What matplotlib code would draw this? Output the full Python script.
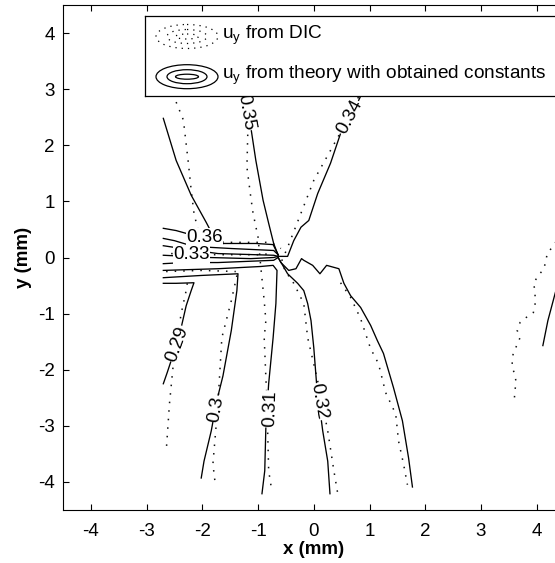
import matplotlib
matplotlib.use('Agg')
import matplotlib.pyplot as plt
from matplotlib.patches import Ellipse

plt.rcParams['font.family'] = ['Liberation Sans', 'DejaVu Sans']
plt.rcParams['mathtext.default'] = 'regular'
plt.rcParams['axes.unicode_minus'] = False

# ---------------- data (mm) ----------------
tick_vals = [-4, -3, -2, -1, 0, 1, 2, 3, 4]

# theory contours (solid)
th_a_x = [-2.70, -2.47, -2.20, -1.93, -1.79, -1.63, -1.04, -0.73, -0.64]
th_a_y = [2.48, 1.73, 1.11, 0.625, 0.36, 0.25, 0.25, 0.23, 0.05]
th_036_x = [-2.70, -2.47, -2.29, -2.02, -1.79, -1.63]
th_036_y = [0.52, 0.48, 0.43, 0.34, 0.30, 0.25]
th_b035_x = [-2.70, -2.50, -2.20, -1.84, -1.48, -0.72, -0.64]
th_b035_y = [0.34, 0.30, 0.21, 0.18, 0.16, 0.125, 0.05]
th_b034_x = [-2.70, -2.50, -1.72, -0.72, -0.64]
th_b034_y = [0.21, 0.18, 0.07, 0.04, 0.02]
th_033_x = [-2.70, -1.88, -1.13, -0.72, -0.64]
th_033_y = [0.04, 0.00, -0.02, 0.00, 0.02]
th_b032_x = [-2.70, -2.33, -1.72, -0.72, -0.64]
th_b032_y = [-0.11, -0.09, -0.09, -0.05, 0.00]
th_031_x = [-2.70, -1.72, -0.95, -0.73, -0.66, -0.68, -0.73, -0.81, -0.86, -0.88, -0.93]
th_031_y = [-0.23, -0.20, -0.16, -0.14, -0.23, -0.82, -1.43, -2.25, -3.02, -3.80, -4.21]
th_030_x = [-2.70, -2.02, -1.36, -1.38, -1.48, -1.63, -1.74, -1.84, -1.97, -2.02]
th_030_y = [-0.36, -0.32, -0.29, -0.59, -1.30, -2.11, -2.55, -3.09, -3.63, -3.93]
th_029_x = [-2.70, -2.47, -2.15, -2.20, -2.29, -2.38, -2.56, -2.63, -2.70]
th_029_y = [-0.46, -0.46, -0.45, -0.59, -0.86, -1.25, -1.84, -2.05, -2.25]
th_032_x = [-0.64, -0.47, -0.29, -0.18, -0.11, -0.05, 0.00, 0.05, 0.16, 0.25, 0.29]
th_032_y = [0.00, -0.29, -0.46, -0.59, -0.82, -1.125, -1.61, -2.25, -3.09, -3.63, -4.21]
th_r_x = [-0.64, -0.59, -0.45, -0.32, -0.22, -0.18, -0.02, 0.11, 0.23, 0.45, 0.54, 0.66,
          0.84, 1.02, 1.14, 1.25, 1.43, 1.59, 1.70, 1.77]
th_r_y = [0.00, -0.09, -0.23, -0.20, -0.02, -0.05, -0.14, -0.29, -0.14, -0.20, -0.46, -0.68,
          -0.89, -1.21, -1.48, -1.71, -2.32, -2.91, -3.57, -4.09]
th_034_x = [0.84, 0.68, 0.48, 0.30, 0.07, -0.09, -0.23, -0.36, -0.47, -0.64]
th_034_y = [2.875, 2.54, 2.21, 1.68, 1.14, 0.66, 0.54, 0.30, 0.02, 0.02]
th_035_x = [-1.16, -1.13, -1.04, -0.91, -0.81, -0.72, -0.64]
th_035_y = [2.875, 2.32, 1.73, 1.02, 0.61, 0.25, 0.04]
th_far_x = [4.11, 4.20, 4.33, 4.42]
th_far_y = [-1.57, -1.125, -0.64, -0.32]

# DIC contours (dotted)
dic_1_x = [-2.47, -2.34, -2.25, -2.20, -2.15, -2.09, -2.02, -1.57, -0.77, -0.59]
dic_1_y = [2.77, 2.45, 1.68, 1.20, 0.79, 0.54, 0.30, 0.27, 0.27, 0.16]
dic_2_x = [-1.16, -1.18, -1.20, -1.13, -1.09, -1.00, -0.95, -0.89, -0.86, -0.89, -0.84, -0.81, -0.75]
dic_2_y = [2.80, 2.39, 1.61, 1.07, 0.79, 0.36, -0.18, -0.77, -1.125, -1.43, -2.61, -3.80, -4.18]
dic_3_x = [0.80, 0.72, 0.43, 0.00, -0.23, -0.47, -0.57, -0.52, -0.36, -0.18, -0.11, 0.07, 0.25, 0.36, 0.43]
dic_3_y = [2.86, 2.68, 2.14, 1.375, 0.79, 0.18, -0.05, -0.23, -0.46, -0.82, -1.43, -2.20, -3.09, -3.80, -4.21]
dic_4_x = [0.48, 0.66, 0.84, 0.97, 1.02, 1.16, 1.29, 1.47, 1.52, 1.61, 1.68]
dic_4_y = [-0.45, -0.71, -1.09, -1.48, -1.625, -1.89, -2.41, -2.79, -3.27, -3.68, -4.05]
dic_5_x = [-2.27, -2.29, -2.38, -2.52, -2.59, -2.65]
dic_5_y = [-0.46, -0.59, -1.00, -1.89, -2.61, -3.48]
dic_6_x = [-1.38, -1.48, -1.65, -1.72, -1.81, -1.77]
dic_6_y = [-0.32, -0.77, -1.43, -2.61, -3.68, -4.02]
dic_b1_x = [-2.56, -1.80, -1.00, -0.73]
dic_b1_y = [0.07, 0.05, 0.05, 0.07]
dic_b2_x = [-2.65, -2.00, -1.40]
dic_b2_y = [-0.25, -0.23, -0.25]
dic_far_x = [4.42, 4.29, 4.19, 4.13, 4.03, 3.94, 3.97, 3.97, 3.94, 3.81, 3.70, 3.65, 3.70,
             3.65, 3.58, 3.56, 3.56, 3.61, 3.63, 3.61, 3.60]
dic_far_y = [0.39, 0.20, 0.07, -0.20, -0.32, -0.46, -0.59, -0.86, -0.98, -1.07, -1.16, -1.30, -1.43,
             -1.55, -1.70, -1.82, -1.96, -2.09, -2.23, -2.36, -2.50]

# contour labels
lab_text = ['0.36', '0.33', '0.35', '0.34', '0.29', '0.3', '0.31', '0.32']
lab_x = [-1.96, -2.19, -1.22, 0.64, -2.45, -1.75, -0.78, 0.09]
lab_y = [0.36, 0.045, 2.59, 2.50, -1.54, -2.70, -2.70, -2.57]
lab_rot = [0, 0, -80, 62, 70, 80, 88, -80]

legend_labels = ['u$_y$ from DIC', 'u$_y$ from theory with obtained constants']

# ---------------- figure ----------------
W, H = 555, 563
FS = 13.5
fig = plt.figure(figsize=(W / 100, H / 100), dpi=100)
ax = fig.add_axes([63 / W, (H - 510) / H, (564.6 - 63) / W, 505 / H])
ax.set_xlim(-4.5, 4.5)
ax.set_ylim(-4.5, 4.5)

solid = [(th_a_x, th_a_y), (th_036_x, th_036_y), (th_b035_x, th_b035_y), (th_b034_x, th_b034_y),
         (th_033_x, th_033_y), (th_b032_x, th_b032_y), (th_031_x, th_031_y), (th_030_x, th_030_y),
         (th_029_x, th_029_y), (th_032_x, th_032_y), (th_r_x, th_r_y), (th_034_x, th_034_y),
         (th_035_x, th_035_y), (th_far_x, th_far_y)]
dotted = [(dic_1_x, dic_1_y), (dic_2_x, dic_2_y), (dic_3_x, dic_3_y), (dic_4_x, dic_4_y),
          (dic_5_x, dic_5_y), (dic_6_x, dic_6_y), (dic_b1_x, dic_b1_y), (dic_b2_x, dic_b2_y),
          (dic_far_x, dic_far_y)]

for xs, ys in dotted:
    ax.plot(xs, ys, color='#111111', lw=1.1, linestyle=(0, (1.0, 4.6)), zorder=2,
            solid_capstyle='butt', dash_capstyle='butt')
for xs, ys in solid:
    ax.plot(xs, ys, color='black', lw=0.95, zorder=2)

for t, x, y, r in zip(lab_text, lab_x, lab_y, lab_rot):
    ax.text(x, y, t, rotation=r, ha='center', va='center', fontsize=FS, zorder=3,
            rotation_mode='anchor',
            bbox=dict(facecolor='white', edgecolor='none', pad=0.3))

ax.set_xticks(tick_vals)
ax.set_yticks(tick_vals)
ax.tick_params(direction='in', length=4, width=0.8, top=True, right=True,
               labelsize=FS)
ax.tick_params(axis='x', pad=9)
ax.tick_params(axis='y', pad=6)
for s in ax.spines.values():
    s.set_linewidth(0.8)
ax.set_xlabel('x (mm)', fontsize=FS, fontweight='bold', labelpad=1)
ax.set_ylabel('y (mm)', fontsize=FS, fontweight='bold', labelpad=4)

# ---------------- legend box ----------------
lx0, ly0, lx1, ly1 = 145, 16, 575, 96
lax = fig.add_axes([lx0 / W, (H - ly1) / H, (lx1 - lx0) / W, (ly1 - ly0) / H], zorder=5)
lax.set_xlim(0, lx1 - lx0)
lax.set_ylim(ly1 - ly0, 0)
lax.set_xticks([])
lax.set_yticks([])
for s in lax.spines.values():
    s.set_linewidth(0.9)
ell_w = [62, 40, 23]
ell_h = [24, 14, 5]
for cy, ls in [(20.5, (0, (1.0, 4))), (60.7, '-')]:
    for w_, h_ in zip(ell_w, ell_h):
        lax.add_patch(Ellipse((42, cy), w_, h_, fill=False, edgecolor='black',
                              lw=0.9, linestyle=ls))
lax.text(77, 19, legend_labels[0], fontsize=13.7, va='center', ha='left')
lax.text(77, 59, legend_labels[1], fontsize=13.7, va='center', ha='left')

fig.savefig('out.png', dpi=100)
